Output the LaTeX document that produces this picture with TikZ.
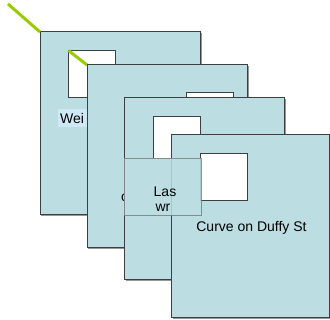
\documentclass[tikz,border=0pt]{standalone}
\usepackage{fontspec}
\setmainfont{Liberation Sans}
\definecolor{cardfill}{RGB}{188,222,226}
\definecolor{cardline}{RGB}{60,64,64}
\definecolor{shadowc}{RGB}{150,150,150}
\definecolor{leaf}{RGB}{153,204,0}
\definecolor{hilite}{RGB}{206,232,246}
\tikzset{
  card/.style={fill=cardfill, draw=cardline, line width=1pt},
  cardshadow/.style={fill=shadowc, draw=none},
  hole/.style={fill=white, draw=cardline, line width=1pt},
  leafline/.style={draw=leaf, line width=3pt},
  lbl/.style={font=\fontsize{14}{16}\selectfont, inner sep=0pt, text=black},
}
\begin{document}
\begin{tikzpicture}[x=1pt,y=-1pt]
\useasboundingbox (0,0) rectangle (330,320);
% card 1
\fill[cardshadow] (41,33) rectangle (201.5,216);
\draw[card] (40,32) rectangle (200,214.5);
\draw[hole] (68.5,50.5) rectangle (115.5,97.5);
\node[fill=hilite, minimum width=29pt, minimum height=18pt, anchor=west, inner sep=0pt] (weibg) at (58,118.5) {};
\node[lbl, anchor=west] (wei) at (60,118.5) {Wei};
\coordinate (c1) at (40,32);
\coordinate (t1) at (8,4);
\draw[leafline] (t1) -- (c1);
\coordinate (h1) at (68.5,50.5);
\coordinate (c2) at (87,65);
\draw[leafline] (h1) -- (c2);
% card 2
\fill[cardshadow] (88,66) rectangle (248.5,249.5);
\draw[card] (87,65) rectangle (247,248);
\draw[hole] (186,93) rectangle (233,140);
\node[lbl] (cfrag) at (124.5,198) {c};
% card 3
\fill[cardshadow] (125.5,99) rectangle (285.5,281.5);
\draw[card] (124.5,98) rectangle (284,280);
\fill[white] (153,116.5) rectangle (200,158);
\draw[cardline, line width=1pt] (153,158) -- (153,116.5) -- (200,116.5) -- (200,158);
% card 4
\fill[cardshadow] (172.5,136) rectangle (331,319);
\draw[card] (171.7,135) rectangle (329,317.5);
\draw[hole] (200,154) rectangle (247,201);
% text box
\node[draw=cardline!70, line width=0.6pt, fill=cardfill, fill opacity=0.85, draw opacity=0.8, minimum width=76.5pt, minimum height=57pt, inner sep=0pt, anchor=north west] (box) at (124,158) {};
\node[lbl] (las) at (165,192) {Las};
\node[lbl] (wr) at (163,208) {wr};
\node[lbl] (curve) at (251.5,228) {Curve on Duffy St};
\end{tikzpicture}
\end{document}
